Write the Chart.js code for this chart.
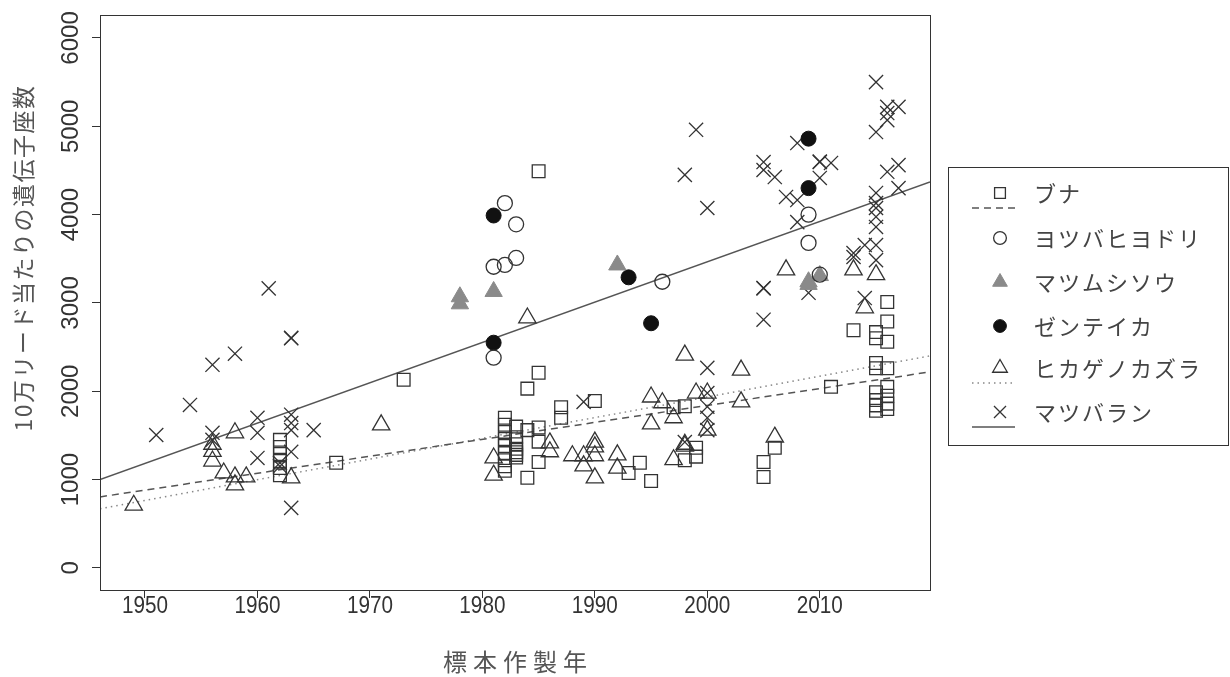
<!DOCTYPE html>
<html>
<head>
<meta charset="utf-8">
<script src="https://cdn.jsdelivr.net/npm/chart.js@4.4.1/dist/chart.umd.min.js"></script>
<style>
  body { margin: 0; background: #fff; }
</style>
</head>
<body>
<canvas id="myChart" width="1230" height="677"></canvas>
<script>
/********** DATA **********/

// ブナ (squares)
const bunaYears  = [1962, 1962, 1962, 1962, 1962, 1962, 1967, 1973,
                    1982, 1982, 1982, 1982, 1982, 1982, 1982, 1982, 1982,
                    1983, 1983, 1983, 1983, 1983, 1983, 1983,
                    1984, 1984, 1984, 1985, 1985, 1985, 1985, 1985,
                    1987, 1987, 1990, 1993, 1994, 1995, 1997, 1998, 1998, 1999, 1999,
                    2005, 2005, 2006, 2011, 2013,
                    2015, 2015, 2015, 2015, 2015, 2015, 2015, 2015,
                    2016, 2016, 2016, 2016, 2016, 2016, 2016, 2016];
const bunaValues = [1050, 1130, 1210, 1290, 1370, 1450, 1190, 2130,
                    1700, 1620, 1540, 1460, 1380, 1300, 1220, 1150, 1100,
                    1600, 1480, 1400, 1350, 1310, 1280, 1250,
                    2030, 1560, 1020, 4490, 2210, 1590, 1430, 1200,
                    1820, 1700, 1890, 1075, 1190, 985, 1820, 1830, 1220, 1360, 1260,
                    1200, 1030, 1360, 2050, 2690,
                    2670, 2600, 2320, 2260, 1990, 1900, 1840, 1780,
                    3010, 2790, 2560, 2260, 2050, 1950, 1860, 1800];

// ヨツバヒヨドリ (open circles)
const yotsubaYears  = [1981, 1981, 1982, 1982, 1983, 1983, 1996, 2009, 2009, 2010];
const yotsubaValues = [3410, 2380, 4130, 3430, 3890, 3510, 3240, 4000, 3680, 3320];

// マツムシソウ (grey triangles)
const matsumushiYears  = [1978, 1978, 1981, 1992, 2009, 2009, 2010];
const matsumushiValues = [3070, 2990, 3130, 3430, 3240, 3210, 3310];

// ゼンテイカ (filled circles)
const zenteikaYears  = [1981, 1981, 1993, 1995, 2009, 2009];
const zenteikaValues = [3990, 2550, 3290, 2770, 4860, 4300];

// ヒカゲノカズラ (open triangles)
const hikageYears  = [1949, 1956, 1956, 1956, 1957, 1958, 1958, 1958, 1959, 1963, 1971,
                      1981, 1981, 1984, 1986, 1986, 1988, 1989, 1989,
                      1990, 1990, 1990, 1990, 1992, 1992, 1995, 1995, 1996, 1997, 1997,
                      1998, 1998, 1998, 1999, 2000, 2000, 2003, 2003, 2006, 2007,
                      2013, 2014, 2015];
const hikageValues = [710, 1400, 1320, 1210, 1075, 1530, 1030, 940, 1030, 1020, 1620,
                      1245, 1050, 2830, 1415, 1315, 1270, 1270, 1155,
                      1425, 1370, 1270, 1020, 1280, 1130, 1935, 1630, 1870, 1700, 1225,
                      2410, 1400, 1380, 1980, 1980, 1560, 2240, 1880, 1480, 3375,
                      3375, 2945, 3320];

// マツバラン (x)
const matsubaranYears  = [1951, 1954, 1956, 1956, 1956, 1958, 1960, 1960, 1960, 1961,
                          1962, 1962, 1963, 1963, 1963, 1963, 1963, 1963, 1963, 1965,
                          1989, 1998, 1998, 1999, 2000, 2000, 2000, 2000, 2000, 2000,
                          2005, 2005, 2005, 2005, 2005, 2006, 2007, 2008, 2008, 2008, 2009,
                          2010, 2010, 2010, 2011, 2013, 2013, 2014, 2014,
                          2015, 2015, 2015, 2015, 2015, 2015, 2015, 2015, 2015,
                          2016, 2016, 2016, 2016, 2017, 2017, 2017];
const matsubaranValues = [1505, 1845, 2300, 1530, 1450, 2425, 1700, 1530, 1245, 3165,
                          1190, 1150, 2605, 2600, 1735, 1640, 1560, 1315, 680, 1560,
                          1880, 4450, 1425, 4960, 4075, 2265, 1980, 1825, 1700, 1560,
                          4595, 4505, 3170, 3165, 2810, 4425, 4200, 4810, 4165, 3915, 3115,
                          4600, 4595, 4415, 4585, 3565, 3520, 3655, 3055,
                          5500, 4935, 4245, 4130, 4075, 3975, 3860, 3655, 3485,
                          5220, 5150, 5070, 4485, 5220, 4560, 4300];

// regression lines, value at the left and right edges of the plot
const fitYears       = [1946, 2019.8];
const bunaFit        = [804, 2219];
const hikageFit      = [670, 2400];
const matsubaranFit  = [1000, 4370];

// axis ticks
const xTicks = [1950, 1960, 1970, 1980, 1990, 2000, 2010];
const yTicks = [0, 1000, 2000, 3000, 4000, 5000, 6000];


/********** HELPERS **********/

const toPoints = (xs, ys) => xs.map((x, i) => ({x: x, y: ys[i]}));

const ink = '#333';
const jpFont = '"Noto Sans CJK JP", sans-serif';
const numFont = '"Liberation Sans", Arial, sans-serif';

const styles = {
    buna:       {pointStyle: 'rect',     radius: 9,   backgroundColor: 'rgba(0,0,0,0)', borderColor: ink,    borderWidth: 1.3},
    yotsuba:    {pointStyle: 'circle',   radius: 7.5, backgroundColor: 'rgba(0,0,0,0)', borderColor: ink,    borderWidth: 1.3},
    matsumushi: {pointStyle: 'triangle', radius: 10,  backgroundColor: '#8a8a8a',       borderColor: '#8a8a8a', borderWidth: 1},
    zenteika:   {pointStyle: 'circle',   radius: 7.5, backgroundColor: '#111',          borderColor: '#111', borderWidth: 1},
    hikage:     {pointStyle: 'triangle', radius: 10,  backgroundColor: 'rgba(0,0,0,0)', borderColor: ink,    borderWidth: 1.3},
    matsubaran: {pointStyle: 'crossRot', radius: 10,  backgroundColor: 'rgba(0,0,0,0)', borderColor: ink,    borderWidth: 1.3}
};

const lineStyles = {
    buna:       {borderColor: '#555', borderDash: [7, 5], borderWidth: 1.5},
    hikage:     {borderColor: '#888', borderDash: [1.5, 4], borderWidth: 1.5},
    matsubaran: {borderColor: '#555', borderDash: [],     borderWidth: 1.5}
};

function pointSet(label, xs, ys, st) {
    return {
        label: label,
        data: toPoints(xs, ys),
        pointStyle: st.pointStyle,
        pointRadius: st.radius,
        pointBackgroundColor: st.backgroundColor,
        pointBorderColor: st.borderColor,
        pointBorderWidth: st.borderWidth,
        showLine: false
    };
}

function lineSet(label, ys, st) {
    return {
        label: label,
        data: toPoints(fitYears, ys),
        showLine: true,
        pointRadius: 0,
        borderColor: st.borderColor,
        borderDash: st.borderDash,
        borderWidth: st.borderWidth,
        fill: false
    };
}

const legendItems = [
    {label: 'ブナ',           style: styles.buna,       line: lineStyles.buna},
    {label: 'ヨツバヒヨドリ', style: styles.yotsuba,    line: null},
    {label: 'マツムシソウ',   style: styles.matsumushi, line: null},
    {label: 'ゼンテイカ',     style: styles.zenteika,   line: null},
    {label: 'ヒカゲノカズラ', style: styles.hikage,     line: lineStyles.hikage},
    {label: 'マツバラン',     style: styles.matsubaran, line: lineStyles.matsubaran}
];


/********** DECORATION PLUGIN (box, tick labels, titles, legend) **********/

const decor = {
    id: 'decor',
    afterDraw(chart) {
        const ctx = chart.ctx;
        const area = chart.chartArea;
        const xs = chart.scales.x;
        const ys = chart.scales.y;

        ctx.save();
        // plot frame
        ctx.strokeStyle = ink;
        ctx.lineWidth = 1;
        ctx.strokeRect(area.left + 0.5, area.top + 0.5, area.right - area.left, area.bottom - area.top);

        // x tick labels (slightly narrow, like the source)
        ctx.fillStyle = ink;
        ctx.font = '23px ' + numFont;
        ctx.textAlign = 'center';
        ctx.textBaseline = 'middle';
        xTicks.forEach(v => {
            ctx.save();
            ctx.translate(xs.getPixelForValue(v), 607);
            ctx.scale(0.9, 1);
            ctx.fillText(String(v), 0, 0);
            ctx.restore();
        });

        // y tick labels, rotated like R
        ctx.font = '24px ' + numFont;
        yTicks.forEach(v => {
            ctx.save();
            ctx.translate(71, ys.getPixelForValue(v));
            ctx.rotate(-Math.PI / 2);
            ctx.fillText(String(v), 0, 0);
            ctx.restore();
        });

        // axis titles
        ctx.fillStyle = '#555';
        ctx.font = '23px ' + jpFont;
        ctx.save();
        ctx.letterSpacing = '1.5px';
        ctx.translate(23, 258);
        ctx.rotate(-Math.PI / 2);
        ctx.fillText('10万リード当たりの遺伝子座数', 0, 0);
        ctx.restore();
        ctx.save();
        ctx.font = '24px ' + jpFont;
        ctx.letterSpacing = '6px';
        ctx.fillText('標本作製年', (area.left + area.right) / 2 + 3, 662);
        ctx.restore();

        // legend
        const bx = 948, by = 167, bw = 280, bh = 278;
        ctx.strokeStyle = ink;
        ctx.lineWidth = 1;
        ctx.strokeRect(bx + 0.5, by + 0.5, bw, bh);
        const rowY = [193, 238, 282, 326, 368, 412];
        legendItems.forEach((it, i) => {
            const cy = rowY[i];
            const st = it.style;
            ctx.save();
            ctx.fillStyle = st.backgroundColor;
            ctx.strokeStyle = st.borderColor;
            ctx.lineWidth = st.borderWidth;
            Chart.helpers.drawPoint(ctx, {
                pointStyle: st.pointStyle, radius: st.radius * 0.85,
                borderWidth: st.borderWidth, rotation: 0
            }, 1000, cy);
            ctx.restore();
            if (it.line) {
                ctx.save();
                ctx.strokeStyle = it.line.borderColor;
                ctx.lineWidth = it.line.borderWidth;
                ctx.setLineDash(it.line.borderDash);
                ctx.beginPath();
                ctx.moveTo(972, cy + 15);
                ctx.lineTo(1015, cy + 15);
                ctx.stroke();
                ctx.restore();
            }
            ctx.save();
            ctx.fillStyle = '#444';
            ctx.font = '22px ' + jpFont;
            ctx.letterSpacing = '2px';
            ctx.textAlign = 'left';
            ctx.fillText(it.label, 1034, cy + 1);
            ctx.restore();
        });
        ctx.restore();
    }
};


/********** CHART **********/

const ctx = document.getElementById('myChart').getContext('2d');
const myChart = new Chart(ctx, {
    type: 'scatter',
    data: {
        datasets: [
            pointSet('ブナ', bunaYears, bunaValues, styles.buna),
            pointSet('ヨツバヒヨドリ', yotsubaYears, yotsubaValues, styles.yotsuba),
            pointSet('マツムシソウ', matsumushiYears, matsumushiValues, styles.matsumushi),
            pointSet('ゼンテイカ', zenteikaYears, zenteikaValues, styles.zenteika),
            pointSet('ヒカゲノカズラ', hikageYears, hikageValues, styles.hikage),
            pointSet('マツバラン', matsubaranYears, matsubaranValues, styles.matsubaran),
            lineSet('ブナ fit', bunaFit, lineStyles.buna),
            lineSet('ヒカゲノカズラ fit', hikageFit, lineStyles.hikage),
            lineSet('マツバラン fit', matsubaranFit, lineStyles.matsubaran)
        ]
    },
    options: {
        responsive: false,
        animation: false,
        devicePixelRatio: 1,
        layout: {padding: {left: 0, top: 15, right: 300, bottom: 0}},
        plugins: {
            legend: {display: false},
            tooltip: {enabled: false}
        },
        scales: {
            x: {
                type: 'linear',
                min: 1946,
                max: 2019.8,
                afterBuildTicks: s => { s.ticks = xTicks.map(v => ({value: v})); },
                afterFit: s => { s.height = 87; },
                grid: {display: true, drawOnChartArea: false, drawTicks: true, tickLength: 8, color: ink},
                border: {display: true, color: ink},
                ticks: {display: false}
            },
            y: {
                type: 'linear',
                min: -250,
                max: 6260,
                afterBuildTicks: s => { s.ticks = yTicks.map(v => ({value: v})); },
                afterFit: s => { s.width = 100; },
                grid: {display: true, drawOnChartArea: false, drawTicks: true, tickLength: 8, color: ink},
                border: {display: true, color: ink},
                ticks: {display: false}
            }
        }
    },
    plugins: [decor]
});
</script>
</body>
</html>
